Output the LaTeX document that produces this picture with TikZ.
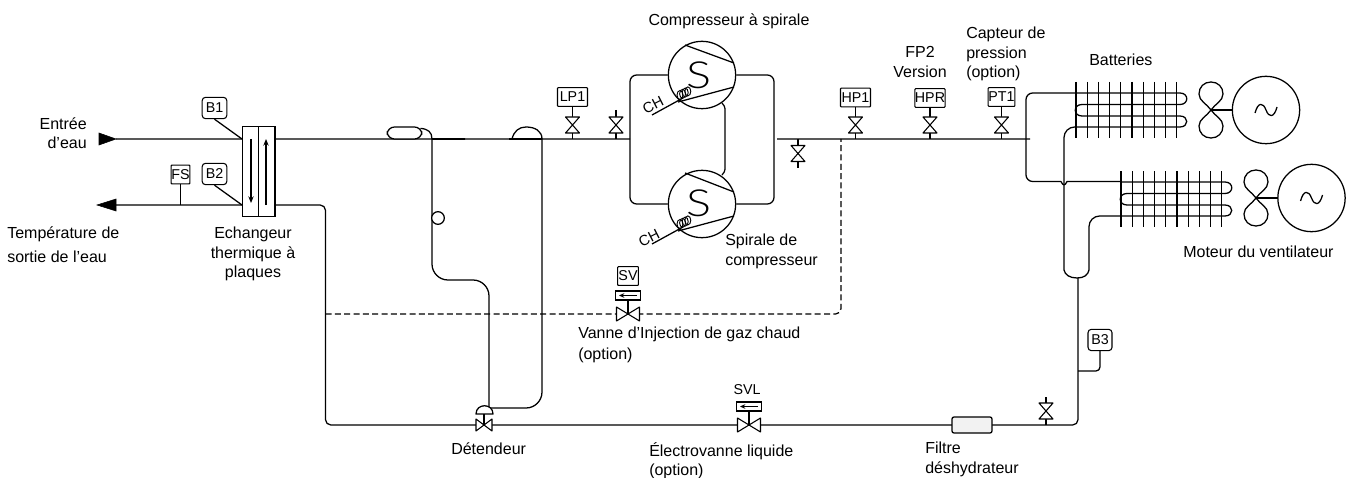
\documentclass[tikz,border=0pt]{standalone}
\usepackage{fontspec}
\setmainfont{Liberation Sans}
\newfontfamily\thinfont{Lato Light}
\usetikzlibrary{arrows.meta}
\tikzset{
  pipe/.style={line width=0.95pt,line join=round},
  hotgas/.style={pipe,dash pattern=on 4.5pt off 2.5pt},
  lbl/.style={font=\fontsize{12}{14.5}\selectfont,inner sep=0pt,align=left},
  lblc/.style={lbl,align=center},
  sens/.style={draw,line width=0.8pt,fill=white,font=\fontsize{10.7}{12}\selectfont,inner sep=0pt,minimum height=14pt},
  rsens/.style={sens,rounded corners=2.5pt,minimum height=16pt,minimum width=18.5pt},
  vvalve/.pic={\draw[pipe,line width=0.8pt,fill=white] (-7,-8) -- (7,-8) -- (-7,8) -- (7,8) -- cycle;},
  hvalve/.pic={\draw[pipe,line width=0.8pt,fill=white] (-11.5,-7) -- (11.5,7) -- (11.5,-7) -- (-11.5,7) -- cycle;},
  dvalve/.pic={\draw[pipe,line width=0.8pt,fill=white] (-8,-6) -- (8,6) -- (8,-6) -- (-8,6) -- cycle;},
  solbox/.pic={\draw[line width=0.8pt,fill=white] (-12.5,-4.5) rectangle (12.5,4.5);
    \draw[line width=0.8pt,-{Stealth[length=4pt,width=3.5pt]}] (9,0) -- (-9,0);},
  fan/.pic={\foreach \s in {1,-1}{
    \draw[pipe,yscale=\s] (0,0) .. controls (-4,-6) and (-12,-9) .. (-12,-16) .. controls (-12,-23) and (-7,-28) .. (0,-28) .. controls (7,-28) and (12,-23) .. (12,-16) .. controls (12,-9) and (4,-6) .. (0,0);}},
  tilde/.pic={\draw[pipe] (-11,3) .. controls (-8,-8) and (-3,-8) .. (0,0) .. controls (3,8) and (8,8) .. (11,-3);},
  coilgrid/.pic={
    \foreach \i in {0,...,9}{\draw[pipe] ({\i*11.2},-11) -- ({\i*11.2},45);}
    \draw[pipe] (0,0) -- (104,0) .. controls (113,0) and (113,11.5) .. (104,11.5) -- (6,11.5) .. controls (-3,11.5) and (-3,23) .. (6,23) -- (104,23) .. controls (113,23) and (113,34) .. (104,34) -- (0,34);},
  heater/.pic={\foreach \i in {0,1,2,3}{\draw[line width=0.7pt] ({\i*2.6},{-\i*1.2}) ellipse (3 and 4.5);}}
}
\begin{document}
\begin{tikzpicture}[x=0.75pt,y=-0.75pt]
\useasboundingbox (0,0) rectangle (1347,478);

% coordinates
\coordinate (wi) at (116,139.03); \coordinate (wo) at (116,205.03);
\coordinate (exTL) at (242,139); \coordinate (exBL) at (242,205);
\coordinate (exTR) at (275,139.03); \coordinate (exBR) at (275,205);
\coordinate (suc) at (630,139); \coordinate (dis) at (777,139.03);
\coordinate (disend) at (1030,139);
\coordinate (bulbT) at (432,139);
\coordinate (humpR) at (542,139);
\coordinate (det) at (484,425);
\coordinate (svlv) at (628,314);
\coordinate (svll) at (749,425);
\coordinate (inj) at (841,139);
\coordinate (hgs) at (325.5,314.03);

% water
\draw[fill=black] (99,133) -- (116,139) -- (99,145) -- cycle;
\draw[fill=black] (97,205) -- (116,199) -- (116,211) -- cycle;
\draw[pipe] (wi) -- (exTL);
\draw[pipe] (wo) -- (exBL);

% exchanger
\node[draw,line width=0.8pt,minimum width=12.4pt,minimum height=66.8pt,inner sep=0pt] (exA) at (250.3,171.5) {};
\node[draw,line width=0.8pt,minimum width=12.4pt,minimum height=66.8pt,inner sep=0pt] (exB) at (266.7,171.5) {};
\draw[line width=0.8pt,-{Stealth[length=5pt,width=4pt]}] (251,139) -- (251,203);
\draw[line width=0.8pt,-{Stealth[length=5pt,width=4pt]}] (266,205) -- (266,139);

% sensors left
\node[rsens] (B1) at (214.5,108) {B1};
\node[rsens] (B2) at (214.5,174) {B2};
\node[sens,minimum width=14pt,rounded corners=0.5pt] (FS) at (180.5,174.5) {FS};
\draw[pipe] (B1.south) -- (exTL);
\draw[pipe] (B2.south) -- (exBL);
\coordinate (fsT) at (180.5,205);
\draw[pipe] (FS.south) -- (fsT);

% suction line
\draw[pipe] (exTR) -- (suc);
\draw[line width=1.4pt] (bulbT) -- (465,139.03);
\draw[line width=1.4pt] (509,139.03) -- (humpR);
\node[draw,pipe,fill=white,rounded corners=5.5pt,minimum width=26pt,minimum height=9pt,inner sep=0pt] (bulb) at (404.5,133) {};
\draw[pipe] (bulb.north east) ++(-2,2) .. controls (428,129) and (432,132) .. (bulbT);
\draw[pipe,rounded corners=12pt] (bulbT) -- (432,280) -- (489,280) -- (489,408);
\node[draw,pipe,circle,fill=white,minimum size=9.5pt,inner sep=0pt] (bulb2) at (438,218) {};
\draw[pipe,rounded corners=12pt] (489,408) -- (542,408) -- (humpR);
\draw[pipe] (512,139) .. controls (514,131) and (519,127) .. (526,127) .. controls (535,127) and (542,131) .. (humpR);

% liquid line
\draw[pipe,rounded corners=4pt] (exBR) -- (325.5,205) -- (325.5,425) -- (1078,425) -- (1078,278);

% hot gas
\draw[hotgas] (hgs) -- (svlv);
\draw[hotgas,rounded corners=4pt] (svlv) -- (841,314) -- (inj);

% expansion valve
\pic at (det) {dvalve};
\draw[pipe] (det) -- (484,414);
\draw[pipe,fill=white] (476,414) .. controls (476,403) and (493,403) .. (493,414) -- cycle;

% SV
\pic at (svlv) {hvalve};
\draw[line width=0.8pt] (svlv) -- (628,300);
\pic (svbox) at (628,295.5) {solbox};
\node[sens,minimum width=15.5pt,rounded corners=0.5pt] (SV) at (628,276) {SV};
% SVL
\pic at (svll) {hvalve};
\draw[line width=0.8pt] (svll) -- (749,411);
\pic (svlbox) at (749,406.5) {solbox};

% suction sensors
\node[sens,minimum width=22.5pt,rounded corners=0.5pt] (LP1) at (572.5,97) {LP1};
\coordinate (lpT) at (572.5,139);
\draw[pipe] (LP1.south) -- (lpT);
\pic at (572.5,125) {vvalve};
\coordinate (v2t) at (616,110); \coordinate (v2b) at (616,139);
\draw[pipe] (v2t) -- (v2b);
\pic at (616,125) {vvalve};

% compressors
\node[draw,pipe,circle,minimum size=50.5pt,inner sep=0pt] (C1) at (702,75) {};
\node[draw,pipe,circle,minimum size=50.5pt,inner sep=0pt] (C2) at (702,204) {};
\draw[pipe,rounded corners=5pt] (C1.west) -- (630,75) -- (630,204) -- (C2.west);
\draw[pipe,rounded corners=5pt] (C1.east) -- (774,75) -- (774,204) -- (C2.east);
\draw[pipe] (722,103) .. controls (726,107) and (725,110) .. (725,115) -- (725,163) .. controls (725,168) and (726,171) .. (722,175);
\node[font=\thinfont\fontsize{28}{30}\selectfont,inner sep=0pt,xscale=1.25] (S1) at (699,75) {S};
\node[font=\thinfont\fontsize{28}{30}\selectfont,inner sep=0pt,xscale=1.25] (S2) at (699,203) {S};
\draw[pipe] (685,45) -- (734,63);
\draw[pipe] (685,173) -- (734,192);
\draw[pipe] (678,102) -- (734,87);
\draw[pipe] (678,231) -- (734,216);
\draw[pipe] (652,115) -- (683,98);
\draw[pipe] (652,244) -- (683,227);
\pic at (680,95) {heater};
\pic at (680,224) {heater};
\node[lbl,rotate=27,font=\fontsize{11}{12}\selectfont] (CH1) at (653,105) {CH};
\node[lbl,rotate=27,font=\fontsize{11}{12}\selectfont] (CH2) at (649,238) {CH};

% discharge line
\draw[pipe] (dis) -- (disend);
\coordinate (v3) at (798,168);
\draw[pipe] (798,139) -- (798,146);
\draw[line width=1.4pt] (798,161) -- (v3);
\pic at (798,153.5) {vvalve};
\node[sens,minimum width=22.5pt,rounded corners=0.5pt] (HP1) at (855.5,97.5) {HP1};
\node[sens,minimum width=22.5pt,rounded corners=0.5pt] (HPR) at (930,98) {HPR};
\node[sens,minimum width=20pt,rounded corners=0.5pt] (PT1) at (1001.5,97) {PT1};
\coordinate (hpT) at (855.5,139); \coordinate (hrT) at (930,139); \coordinate (ptT) at (1001.5,139);
\draw[pipe] (HP1.south) -- (hpT);
\draw[pipe] (HPR.south) -- (hrT);
\draw[pipe] (PT1.south) -- (ptT);
\pic at (855.5,125) {vvalve};
\pic at (930,125) {vvalve};
\pic at (1001.5,125) {vvalve};

% coils
\pic at (1076,93) {coilgrid};
\pic at (1121,182) {coilgrid};
\draw[pipe,rounded corners=5pt] (1076,93) -- (1026,93) -- (1026,181.5) -- (1061,181.5);
\draw[pipe] (1061,181.5) .. controls (1063,186) and (1065,186) .. (1067,181.5) -- (1121,181.5);
\draw[pipe,rounded corners=8pt] (1076,127) -- (1064,127) -- (1064,270);
\draw[pipe,rounded corners=8pt] (1121,216) -- (1089,216) -- (1089,270);
\draw[pipe] (1064,270) .. controls (1065,275) and (1070,278) .. (1077,278) .. controls (1084,278) and (1088,275) .. (1089,270);

% fans and motors
\pic at (1211,110) {fan};
\pic at (1256,198) {fan};
\node[draw,pipe,circle,minimum size=50.5pt,inner sep=0pt] (M1) at (1266,110) {};
\node[draw,pipe,circle,minimum size=50.5pt,inner sep=0pt] (M2) at (1311.5,198) {};
\coordinate (f1) at (1211,110); \coordinate (f2) at (1256,198);
\draw[pipe] (f1) -- (M1.west);
\draw[pipe] (f2) -- (M2.west);
\pic at (M1.center) {tilde};
\pic at (M2.center) {tilde};

% liquid accessories
\node[draw,pipe,fill=black!5,rounded corners=1.5pt,minimum width=30pt,minimum height=12pt,inner sep=0pt] (filter) at (972,425) {};
\coordinate (v4) at (1046,397); \coordinate (v4b) at (1046,425);
\draw[pipe] (v4) -- (v4b);
\pic at (1046,411) {vvalve};
\node[rsens,minimum width=18pt] (B3) at (1100,340) {B3};
\coordinate (b3T) at (1078,371);
\draw[pipe,rounded corners=3pt] (B3.south) -- (1100,371) -- (b3T);

% labels
\node[lbl,align=right,anchor=north east] (t1) at (87,117.5) {Entrée\\d’eau};
\node[lbl,anchor=north west,font=\fontsize{12}{18}\selectfont] (t2) at (7,226) {Température de\\sortie de l’eau};
\node[lblc,anchor=north] (t3) at (253,227) {Echangeur\\thermique à\\plaques};
\node[lbl,anchor=center] (t4) at (729,21) {Compresseur à spirale};
\node[lblc,anchor=north] (t5) at (920,46.5) {FP2\\Version};
\node[lbl,anchor=north west] (t6) at (966,27) {Capteur de\\pression\\(option)};
\node[lbl,anchor=west] (t7) at (1089,60) {Batteries};
\node[lbl,anchor=north west] (t8) at (725,234) {Spirale de\\compresseur};
\node[lbl,anchor=west] (t9) at (1183,252) {Moteur du ventilateur};
\node[lbl,anchor=north west,font=\fontsize{12}{15.5}\selectfont] (t10) at (578,326.5) {Vanne d’Injection de gaz chaud\\(option)};
\node[lbl,anchor=west] (t11) at (451,449) {Détendeur};
\node[lbl,anchor=north west] (t12) at (649,442) {Électrovanne liquide\\(option)};
\node[lbl,anchor=north west] (t13) at (925,442) {Filtre\\déshydrateur};
\node[lblc,anchor=center,font=\fontsize{10.7}{12}\selectfont] (t14) at (747,390) {SVL};
\end{tikzpicture}
\end{document}
